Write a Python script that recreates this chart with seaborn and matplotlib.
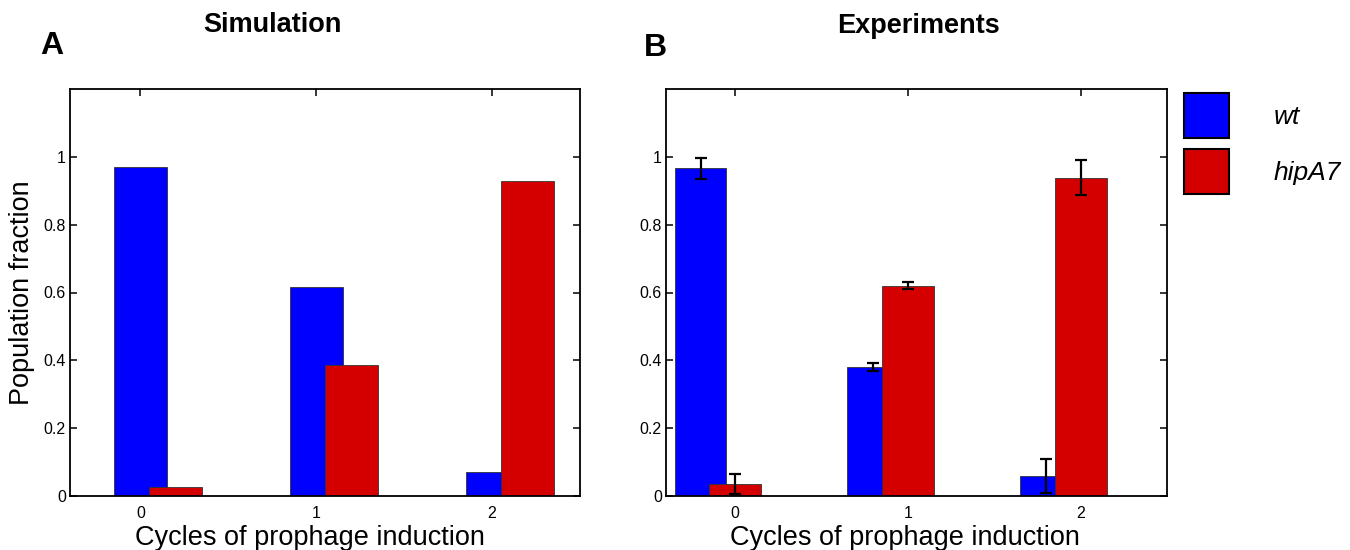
import numpy as np
import pandas as pd
import matplotlib
matplotlib.use('Agg')
import matplotlib.pyplot as plt
import seaborn as sns

# data
cycles = np.array([0, 1, 2])
sim_wt = [0.970, 0.615, 0.071]
sim_hip = [0.028, 0.385, 0.928]
exp_wt = [0.966, 0.380, 0.060]
exp_hip = [0.035, 0.620, 0.939]
exp_wt_err = [0.031, 0.012, 0.050]
exp_hip_err = [0.029, 0.011, 0.051]
strains = ['wt', 'hipA7']
titles = ['Simulation', 'Experiments']
panel_tags = ['A', 'B']

blue = '#0000ff'
red = '#d40000'

sns.set_theme(style='ticks')
plt.rcParams['font.family'] = ['Liberation Sans', 'DejaVu Sans']
plt.rcParams['axes.linewidth'] = 1.3
plt.rcParams['text.color'] = 'black'
plt.rcParams['axes.labelcolor'] = 'black'

fig = plt.figure(figsize=(13.5, 5.5), dpi=100)
axA = fig.add_axes([70/1350, 1-496/550, 510/1350, 407/550])
axB = fig.add_axes([666/1350, 1-496/550, 501/1350, 407/550])

def bars(ax, x, y, color, label):
    sns.barplot(x=x, y=y, native_scale=True, width=0.3, color=color,
                saturation=1, edgecolor='#333333', linewidth=0.6,
                errorbar=None, label=label, ax=ax)

# Simulation: wt centred on the tick, hipA7 shifted right
bars(axA, cycles, sim_wt, blue, strains[0])
bars(axA, cycles + 0.2, sim_hip, red, strains[1])

# Experiments: hipA7 centred on the tick, wt shifted left
bars(axB, cycles - 0.2, exp_wt, blue, strains[0])
bars(axB, cycles, exp_hip, red, strains[1])
axB.errorbar(cycles - 0.2, exp_wt, yerr=exp_wt_err, fmt='none', ecolor='black',
             elinewidth=1.6, capsize=4, capthick=1.6, zorder=5)
axB.errorbar(cycles, exp_hip, yerr=exp_hip_err, fmt='none', ecolor='black',
             elinewidth=1.6, capsize=4, capthick=1.6, zorder=5)

handles, labels = axB.get_legend_handles_labels()

for ax in (axA, axB):
    if ax.get_legend() is not None:
        ax.get_legend().remove()
    ax.set_xlim(-0.4, 2.5)
    ax.set_ylim(0, 1.2)
    ax.set_xticks(cycles)
    ax.set_xticklabels([str(c) for c in cycles])
    ax.set_yticks([0, 0.2, 0.4, 0.6, 0.8, 1])
    ax.set_yticklabels(['0', '0.2', '0.4', '0.6', '0.8', '1'])
    ax.tick_params(direction='in', top=True, right=True, length=5, width=1.1,
                   labelsize=11.5, pad=3, colors='black')
    ax.tick_params(axis='x', pad=7)
    for s in ax.spines.values():
        s.set_visible(True)
        s.set_color('black')
    ax.set_xlabel('Cycles of prophage induction', fontsize=19.5)
    ax.set_ylabel('')

axA.xaxis.set_label_coords(0.47, -0.072, transform=axA.transAxes)
axA.xaxis.label.set_va('top')
axB.xaxis.set_label_coords(0.477, -0.072, transform=axB.transAxes)
axB.xaxis.label.set_va('top')

axA.set_ylabel('Population fraction', fontsize=19.5, labelpad=6)

fig.text(272/1350, 1-25/550, titles[0], fontsize=19.5, fontweight='bold',
         ha='center', va='center')
fig.text(918/1350, 1-26/550, titles[1], fontsize=19.5, fontweight='bold',
         ha='center', va='center')
fig.text(52/1350, 1-46/550, panel_tags[0], fontsize=23, fontweight='bold',
         ha='center', va='center')
fig.text(655/1350, 1-48/550, panel_tags[1], fontsize=23, fontweight='bold',
         ha='center', va='center')

leg = fig.legend(handles, labels, loc='upper left',
                 bbox_to_anchor=(1184/1350, 1-93/550), frameon=False,
                 prop={'style': 'italic', 'size': 19},
                 handlelength=1.7, handleheight=2.25, labelspacing=0.42,
                 handletextpad=1.7, borderpad=0, borderaxespad=0)
for p in leg.get_patches():
    p.set_edgecolor('black')
    p.set_linewidth(1.5)

fig.savefig('out.png', dpi=100)
